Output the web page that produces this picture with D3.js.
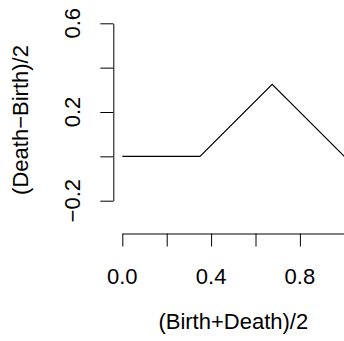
<!DOCTYPE html>
<html lang="en">
<head>
<meta charset="UTF-8">
<title>landscape</title>
<script src="https://d3js.org/d3.v7.min.js"></script>
<style>
  body { margin: 0; background: #fff; }
  svg { display: block; }
  text { font-family: "Liberation Sans", Arial, sans-serif; fill: #000; }
</style>
</head>
<body>
<script>
  // Data
  const midX = [0.0, 0.158, 0.212, 0.32, 0.35, 0.675, 1.0];
  const halfY = [0, 0, 0, 0, 0, 0.325, 0];

  const xTicks = [0, 0.2, 0.4, 0.6, 0.8, 1.0];
  const xTickLabels = ["0.0", "", "0.4", "", "0.8", ""];
  const yTicks = [-0.2, 0, 0.2, 0.4, 0.6];
  const yTickLabels = ["\u22120.2", "", "0.2", "", "0.6"];

  const w = 344;
  const h = 341;
  const fontSize = 22;

  const svg = d3.select("body")
    .append("svg")
    .attr("width", w)
    .attr("height", h);

  svg.append("rect").attr("width", w).attr("height", h).attr("fill", "#fff");

  // scales (plot region runs past the right edge of the window)
  const xScale = d3.scaleLinear().domain([0, 1]).range([122.3, 344.3]);
  const yScale = d3.scaleLinear().domain([-0.2, 0.6]).range([200.7, 23.3]);

  const axisY0 = 233.5;  // bottom edge of plot region
  const axisX0 = 113.3;  // left edge of plot region

  // x axis
  const xAxis = d3.axisBottom(xScale)
    .tickValues(xTicks)
    .tickSize(13)
    .tickSizeOuter(0)
    .tickFormat("");
  const gx = svg.append("g")
    .attr("transform", `translate(0, ${axisY0})`)
    .call(xAxis);
  gx.select(".domain").attr("stroke", "#000");
  gx.selectAll(".tick line").attr("stroke", "#000");

  svg.append("g")
    .selectAll("text")
    .data(xTicks)
    .enter()
    .append("text")
    .attr("x", d => xScale(d))
    .attr("y", 276.7)
    .attr("text-anchor", "middle")
    .attr("dominant-baseline", "central")
    .style("font-size", fontSize + "px")
    .text((d, i) => xTickLabels[i]);

  // y axis
  const yAxis = d3.axisLeft(yScale)
    .tickValues(yTicks)
    .tickSize(13)
    .tickSizeOuter(0)
    .tickFormat("");
  const gy = svg.append("g")
    .attr("transform", `translate(${axisX0}, 0)`)
    .call(yAxis);
  gy.select(".domain").attr("stroke", "#000");
  gy.selectAll(".tick line").attr("stroke", "#000");

  svg.append("g")
    .selectAll("text")
    .data(yTicks)
    .enter()
    .append("text")
    .attr("transform", d => `translate(72, ${yScale(d)}) rotate(-90)`)
    .attr("text-anchor", "middle")
    .attr("dominant-baseline", "central")
    .style("font-size", fontSize + "px")
    .text((d, i) => yTickLabels[i]);

  // axis titles
  svg.append("text")
    .attr("x", xScale(0.5))
    .attr("y", 321.7)
    .attr("text-anchor", "middle")
    .attr("dominant-baseline", "central")
    .style("font-size", fontSize + "px")
    .text("(Birth+Death)/2");

  svg.append("text")
    .attr("transform", "translate(20, 120) rotate(-90)")
    .attr("text-anchor", "middle")
    .attr("dominant-baseline", "central")
    .style("font-size", fontSize + "px")
    .text("(Death\u2212Birth)/2");

  // the landscape line
  const line = d3.line()
    .x((d, i) => xScale(midX[i]))
    .y((d, i) => yScale(halfY[i]));

  svg.append("path")
    .datum(midX)
    .attr("d", line)
    .attr("fill", "none")
    .attr("stroke", "#000")
    .attr("stroke-width", 1.2);
</script>
</body>
</html>
